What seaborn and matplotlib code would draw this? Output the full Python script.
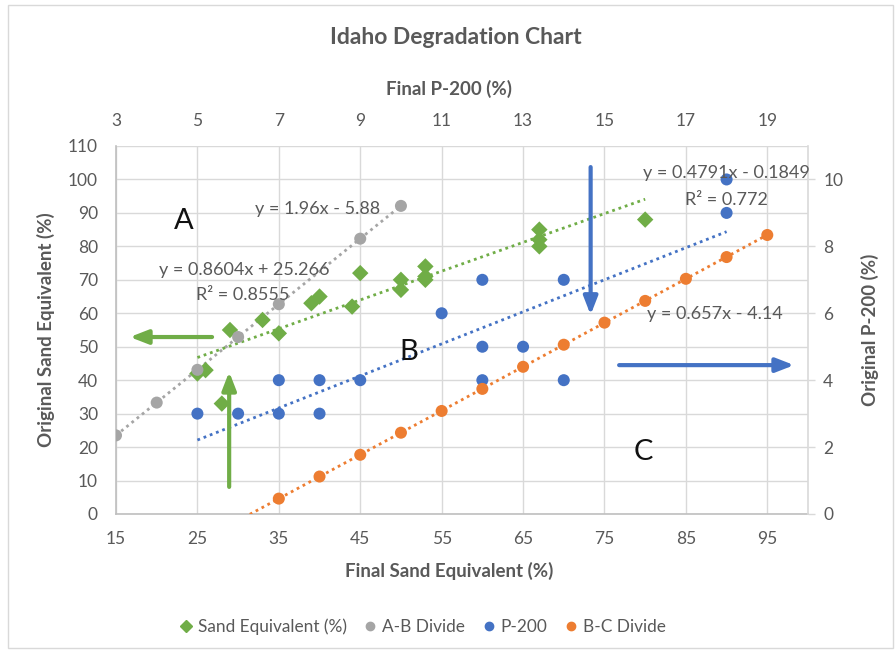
import matplotlib
matplotlib.use('Agg')
import matplotlib.pyplot as plt
import seaborn as sns
import numpy as np
import pandas as pd
from matplotlib.lines import Line2D
from matplotlib.patches import Rectangle

# ---------------- data ----------------
# Sand Equivalent (primary axes: bottom x / left y)
se_x = [25, 26, 28, 29, 33, 35, 39, 40, 44, 45, 50, 50, 53, 53, 53, 67, 67, 67, 80]
se_y = [42, 43, 33, 55, 58, 54, 63, 65, 62, 72, 70, 67, 74, 71, 70, 85, 82, 80, 88]
# A-B Divide (primary axes)
ab_x = [15, 20, 25, 30, 35, 45, 50]
ab_y = [23.5, 33.3, 43.1, 52.9, 62.7, 82.3, 92.1]
# P-200 (secondary axes: top x / right y)
p200_x = [5, 6, 7, 7, 8, 8, 9, 11, 12, 12, 12, 13, 14, 14, 18, 18]
p200_y = [3, 3, 3, 4, 3, 4, 4, 6, 4, 5, 7, 5, 4, 7, 9, 10]
# B-C Divide (secondary axes)
bc_x = [7, 8, 9, 10, 11, 12, 13, 14, 15, 16, 17, 18, 19]
bc_y = [0.46, 1.12, 1.77, 2.43, 3.08, 3.74, 4.40, 5.06, 5.72, 6.37, 7.03, 7.68, 8.34]

# trendline coefficients (slope, intercept) and x-range
se_fit = [0.8604, 25.266]; se_rng = [25, 80]
ab_fit = [1.96, -5.88];    ab_rng = [15, 50]
p200_fit = [0.4791, -0.1849]; p200_rng = [5, 18]
bc_fit = [0.657, -4.14];   bc_rng = [6, 19]

x1_ticks = list(range(15, 96, 10))
y1_ticks = list(range(0, 111, 10))
x2_ticks = list(range(3, 20, 2))
y2_ticks = list(range(0, 11, 2))

GREEN = '#70AD47'
GRAY = '#A5A5A5'
BLUE = '#4472C4'
ORANGE = '#ED7D31'
TXT = '#595959'

sns.set_theme(style='white')
plt.rcParams['font.family'] = ['Lato', 'DejaVu Sans']

fig = plt.figure(figsize=(8.96, 6.53), dpi=100)
W, H = 896, 653
pos = [116 / W, (H - 514) / H, (808 - 116) / W, (514 - 146) / H]
ax = fig.add_axes(pos)
ax2 = fig.add_axes(pos, label='secondary')
ax2.patch.set_visible(False)

TICK_FS = 12.5
LAB_FS = 13.5

# ----- primary axes -----
ax.set_xlim(15, 100)
ax.set_ylim(0, 110)
ax.set_xticks(x1_ticks)
ax.set_yticks(y1_ticks)
ax.grid(True, color='#d9d9d9', lw=1)
ax.set_axisbelow(True)
for s in ['top', 'right']:
    ax.spines[s].set_visible(False)
for s in ['left', 'bottom']:
    ax.spines[s].set_color('#bfbfbf')
    ax.spines[s].set_linewidth(1.2)
ax.tick_params(axis='both', length=0, labelsize=TICK_FS, labelcolor=TXT)
ax.tick_params(axis='x', pad=12)
ax.tick_params(axis='y', pad=13)

# ----- secondary axes -----
ax2.set_xlim(3, 20)
ax2.set_ylim(0, 11)
ax2.set_xticks(x2_ticks)
ax2.set_yticks(y2_ticks)
ax2.xaxis.tick_top()
ax2.yaxis.tick_right()
ax2.xaxis.set_label_position('top')
ax2.yaxis.set_label_position('right')
ax2.grid(False)
for s in ['top', 'left', 'bottom']:
    ax2.spines[s].set_visible(False)
ax2.spines['right'].set_color('#d9d9d9')
ax2.spines['right'].set_linewidth(1.2)
ax2.tick_params(axis='x', length=0, pad=12, labelsize=TICK_FS, labelcolor=TXT)
ax2.tick_params(axis='y', length=5, width=1, color='#d9d9d9', pad=6, labelsize=TICK_FS, labelcolor=TXT)

dot = (0, (1, 1.4))
# trendlines
for (fit, rng, col) in [(ab_fit, ab_rng, GRAY), (se_fit, se_rng, GREEN)]:
    xs = np.array(rng, dtype=float)
    ax.plot(xs, fit[0] * xs + fit[1], color=col, lw=2, ls=dot, zorder=2)
for (fit, rng, col) in [(p200_fit, p200_rng, BLUE), (bc_fit, bc_rng, ORANGE)]:
    xs = np.array(rng, dtype=float)
    ax2.plot(xs, fit[0] * xs + fit[1], color=col, lw=2, ls=dot, zorder=2)

# scatter series
sns.scatterplot(x=se_x, y=se_y, ax=ax, marker='D', s=70, color=GREEN, edgecolor='none', zorder=3)
sns.scatterplot(x=ab_x, y=ab_y, ax=ax, marker='o', s=75, color=GRAY, edgecolor='none', zorder=3)
sns.scatterplot(x=p200_x, y=p200_y, ax=ax2, marker='o', s=75, color=BLUE, edgecolor='none', zorder=3)
sns.scatterplot(x=bc_x, y=bc_y, ax=ax2, marker='o', s=75, color=ORANGE, edgecolor='none', zorder=3)
ax2.set_xlim(3, 20)
ax2.set_ylim(0, 11)
ax.set_xlim(15, 100)
ax.set_ylim(0, 110)

# labels
ax.set_xlabel('Final Sand Equivalent (%)', fontsize=LAB_FS, fontweight='bold', color=TXT)
ax.xaxis.label.set_va('center')
ax.xaxis.set_label_coords(0.481, -0.155)
ax.set_ylabel('Original Sand Equivalent (%)', fontsize=LAB_FS, fontweight='bold', color=TXT)
ax.yaxis.label.set_va('center')
ax.yaxis.set_label_coords(-0.101, 0.5)
ax2.set_xlabel('Final P-200 (%)', fontsize=LAB_FS, fontweight='bold', color=TXT)
ax2.xaxis.label.set_va('center')
ax2.xaxis.set_label_coords(0.481, 1.155)
ax2.set_ylabel('Original P-200 (%)', fontsize=LAB_FS, fontweight='bold', color=TXT)
ax2.yaxis.label.set_va('center')
ax2.yaxis.set_label_coords(1.0896, 0.5)

fig.text(456 / W, 1 - 37 / H, 'Idaho Degradation Chart', ha='center', va='center',
         fontsize=16.5, fontweight='bold', color=TXT)

# region letters & equations (placed in primary data coords, drawn on top)
T = ax.transData
for lbl, x, y in [('A', 23.3, 87.6), ('B', 51, 48.4), ('C', 79.8, 18.5)]:
    ax2.text(x, y, lbl, transform=T, ha='center', va='center', fontsize=21, color='#111111', zorder=6)
eqs = [('y = 1.96x - 5.88', 39.7, 91.2), ('y = 0.8604x + 25.266', 30.7, 72.9),
       ('R² = 0.8555', 30.6, 65.5), ('y = 0.4791x - 0.1849', 90.0, 101.9),
       ('R² = 0.772', 90.0, 93.9), ('y = 0.657x - 4.14', 88.5, 59.8)]
for s, x, y in eqs:
    ax2.text(x, y, s, transform=T, ha='center', va='center', fontsize=13, color=TXT, zorder=6)

# arrows
arrows = [((26.8, 52.9), (16.7, 52.9), GREEN), ((28.9, 8.1), (28.9, 42.5), GREEN),
          ((73.3, 103.7), (73.3, 59.5), BLUE), ((76.8, 44.5), (98.3, 44.5), BLUE)]
for tail, head, col in arrows:
    ax2.annotate('', xy=head, xytext=tail, xycoords=T, textcoords=T,
                 arrowprops=dict(arrowstyle='-|>,head_length=0.9,head_width=0.35', color=col,
                                 lw=3, shrinkA=0, shrinkB=0), zorder=5)

# legend
handles = [Line2D([], [], ls='none', marker='D', ms=6, color=GREEN),
           Line2D([], [], ls='none', marker='o', ms=6, color=GRAY),
           Line2D([], [], ls='none', marker='o', ms=6, color=BLUE),
           Line2D([], [], ls='none', marker='o', ms=6, color=ORANGE)]
labels = ['Sand Equivalent (%)', 'A-B Divide', 'P-200', 'B-C Divide']
leg = fig.legend(handles, labels, loc='center', bbox_to_anchor=(0.472, 1 - 627 / H), ncol=4,
                 frameon=False, handlelength=0.7, handletextpad=0.35, columnspacing=1.0,
                 fontsize=12.4)
for t in leg.get_texts():
    t.set_color(TXT)

# outer chart border
fig.patches.append(Rectangle((8 / W, 5 / H), (893 - 8) / W, (648 - 5) / H, transform=fig.transFigure,
                             fill=False, edgecolor='#d9d9d9', lw=1))

fig.savefig('out.png', dpi=100)
